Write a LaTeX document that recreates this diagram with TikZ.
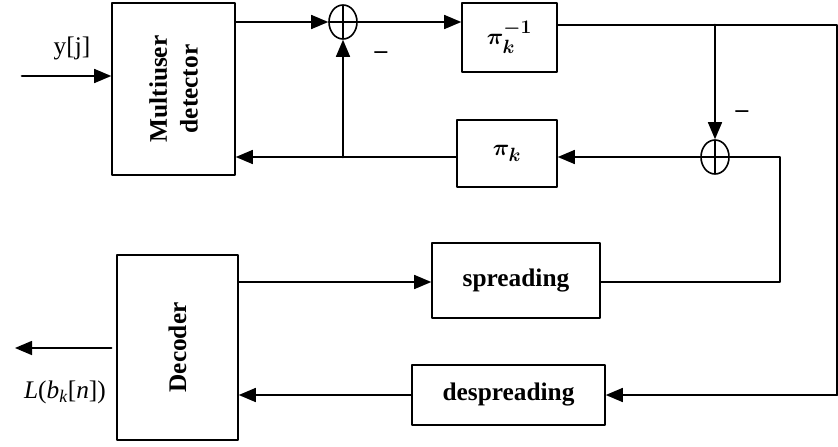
\documentclass[tikz,border=0pt]{standalone}
\usepackage{amsmath,bm}
\usepackage{fontspec}
\setmainfont{Liberation Serif}
\usetikzlibrary{arrows,shapes.geometric}
\newcommand{\pxu}{*0.75pt}
\newcommand{\bigfont}{\fontsize{19}{23}\selectfont}
\tikzset{blk/.style={draw,line width=1.2pt,inner sep=0pt,font=\bfseries\bigfont},
	sumnode/.style={draw,ellipse,line width=1.2pt,minimum width=28\pxu,minimum height=34\pxu,inner sep=0pt,
		path picture={\draw[line width=1pt] (path picture bounding box.north)--(path picture bounding box.south)
			(path picture bounding box.west)--(path picture bounding box.east);}},
	flow/.style={line width=2pt,->,>=triangle 45},
	wire/.style={line width=1.5pt}}
\begin{document}
\begin{tikzpicture}[line cap=round,line join=round,x=0.75pt,y=-0.75pt]
	\useasboundingbox (0,0) rectangle (838,446);
	\node[blk,minimum width=123\pxu,minimum height=172\pxu] (mud) at (173.5,89) {};
	\node[rotate=90,font=\bfseries\bigfont,align=center] at (mud) {Multiuser\\detector};
	\node[blk,minimum width=95\pxu,minimum height=69\pxu] (pinv) at (509.5,37.5) {$\bm{\pi_k^{-1}}$};
	\node[blk,minimum width=100\pxu,minimum height=67\pxu] (pik) at (507,153.5) {$\bm{\pi_k}$};
	\node[blk,minimum width=168\pxu,minimum height=75\pxu] (spr) at (516,280.5) {spreading};
	\node[blk,minimum width=193\pxu,minimum height=60\pxu] (desp) at (508.5,395) {despreading};
	\node[blk,minimum width=121\pxu,minimum height=185\pxu] (dec) at (177.5,347.5) {};
	\node[rotate=90,font=\bfseries\bigfont] at (dec) {Decoder};
	\node[sumnode] (s1) at (343,22) {};
	\node[sumnode] (s2) at (715,157) {};
	\coordinate (yin) at (22,76);
	\coordinate (tap) at (715,25);
	\coordinate (tr) at (837,25);
	\coordinate (br) at (837,395);
	\coordinate (sr) at (780,157);
	\coordinate (sb) at (780,282);
	\coordinate (fb) at (343,157);
	\coordinate (lout) at (15,348);
	\node[font=\bigfont] at (72,48) {y[j]};
	\node[font=\bigfont] at (65,392) {\textit{L}(\textit{b}$_{\mathit{k}}$[\textit{n}])};
	\node[font=\bigfont] at (381,55) {\textbf{--}};
	\node[font=\bigfont] at (742,114) {\textbf{--}};
	% forward path
	\draw[flow] (yin) -- (yin-|mud.west);
	\draw[flow] (mud.east|-s1) -- (s1);
	\draw[flow] (s1) -- (s1-|pinv.west);
	\draw[wire] (pinv.east|-tap) -- (tr) -- (br);
	\draw[flow] (br) -- (desp.east|-br);
	\draw[flow] (tap) -- (s2);
	% feedback
	\draw[wire] (s2) -- (sr) -- (sb) -- (spr.east|-sb);
	\draw[flow] (s2) -- (s2-|pik.east);
	\draw[flow] (pik.west|-fb) -- (fb-|mud.east);
	\draw[flow] (fb) -- (s1);
	\draw[flow] (dec.east|-sb) -- (spr.west|-sb);
	\draw[flow] (desp.west|-br) -- (dec.east|-br);
	\draw[flow] (lout-|dec.west) ++(-5,0) -- (lout);
\end{tikzpicture}
\end{document}
